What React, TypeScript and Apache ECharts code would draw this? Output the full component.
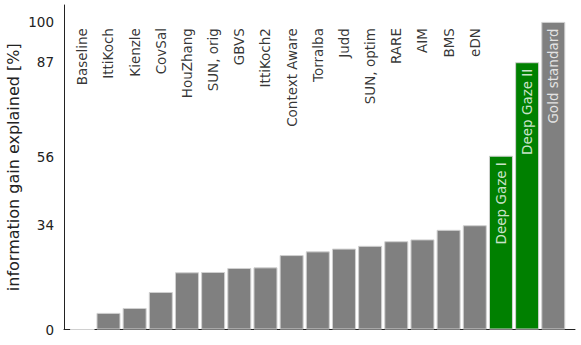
import React, { useEffect, useRef } from "react";
import * as echarts from "echarts";

const categories = [
  "Baseline", "IttiKoch", "Kienzle", "CovSal", "HouZhang", "SUN, orig", "GBVS",
  "IttiKoch2", "Context Aware", "Torralba", "Judd", "SUN, optim", "RARE", "AIM",
  "BMS", "eDN", "Deep Gaze I", "Deep Gaze II", "Gold standard",
];
const values = [
  0, 5.4, 7.0, 12.2, 18.6, 18.7, 20.0, 20.2, 24.2, 25.4, 26.3, 27.2, 28.7, 29.3,
  32.4, 33.9, 56.5, 86.9, 100,
];
const highlighted = ["Deep Gaze I", "Deep Gaze II"];
const insideLabels = ["Deep Gaze I", "Deep Gaze II", "Gold standard"];
const yTicks = [0, 34, 56, 87, 100];

const FONT = "DejaVu Sans";

export default function App() {
  const ref = useRef<HTMLDivElement>(null);
  useEffect(() => {
    document.body.style.margin = "0";
    if (!ref.current) return;
    const chart = echarts.init(ref.current, null, { renderer: "svg" });
    const barData = values.map((v, i) => ({
      value: [i, v],
      itemStyle: {
        color: highlighted.includes(categories[i]) ? "#008000" : "#808080",
      },
    }));
    const labelData = categories.map((c, i) => {
      const inside = insideLabels.includes(c);
      return {
        value: [i, inside ? values[i] - 2.1 : 98],
        name: c,
        label: { color: inside ? "#ffffff" : "#000000" },
      };
    });
    chart.setOption({
      animation: false,
      grid: {
        left: 64,
        right: 6,
        top: 5,
        bottom: 15.5,
        containLabel: false,
        outerBoundsMode: "none",
      },
      xAxis: {
        type: "value",
        min: -0.7,
        max: 18.83,
        axisLine: { show: true, onZero: false, lineStyle: { color: "#222", width: 1 } },
        axisTick: { show: false },
        axisLabel: { show: false },
        splitLine: { show: false },
      },
      yAxis: {
        type: "value",
        min: 0,
        max: 105.5,
        name: "information gain explained [%]",
        nameLocation: "middle",
        nameGap: 43,
        nameMoveOverlap: false,
        nameTextStyle: { fontFamily: FONT, fontSize: 16, color: "#222" },
        axisLine: { show: true, onZero: false, lineStyle: { color: "#222", width: 1 } },
        axisTick: { show: false },
        axisLabel: {
          customValues: yTicks,
          fontFamily: FONT,
          fontSize: 13.5,
          color: "#222",
          margin: 10,
        },
        splitLine: { show: false },
      },
      series: [
        {
          type: "bar",
          data: barData,
          barWidth: 24,
          itemStyle: { borderColor: "#d0d0d0", borderWidth: 1 },
        },
        {
          type: "scatter",
          data: labelData,
          symbolSize: 1,
          itemStyle: { color: "rgba(0,0,0,0)" },
          z: 5,
          label: {
            show: true,
            position: "inside",
            rotate: 90,
            align: "right",
            verticalAlign: "middle",
            fontFamily: FONT,
            fontSize: 13.5,
            formatter: (p: any) => p.name,
          },
        },
      ],
    });
    return () => chart.dispose();
  }, []);
  return <div ref={ref} style={{ width: 581, height: 345 }} />;
}
